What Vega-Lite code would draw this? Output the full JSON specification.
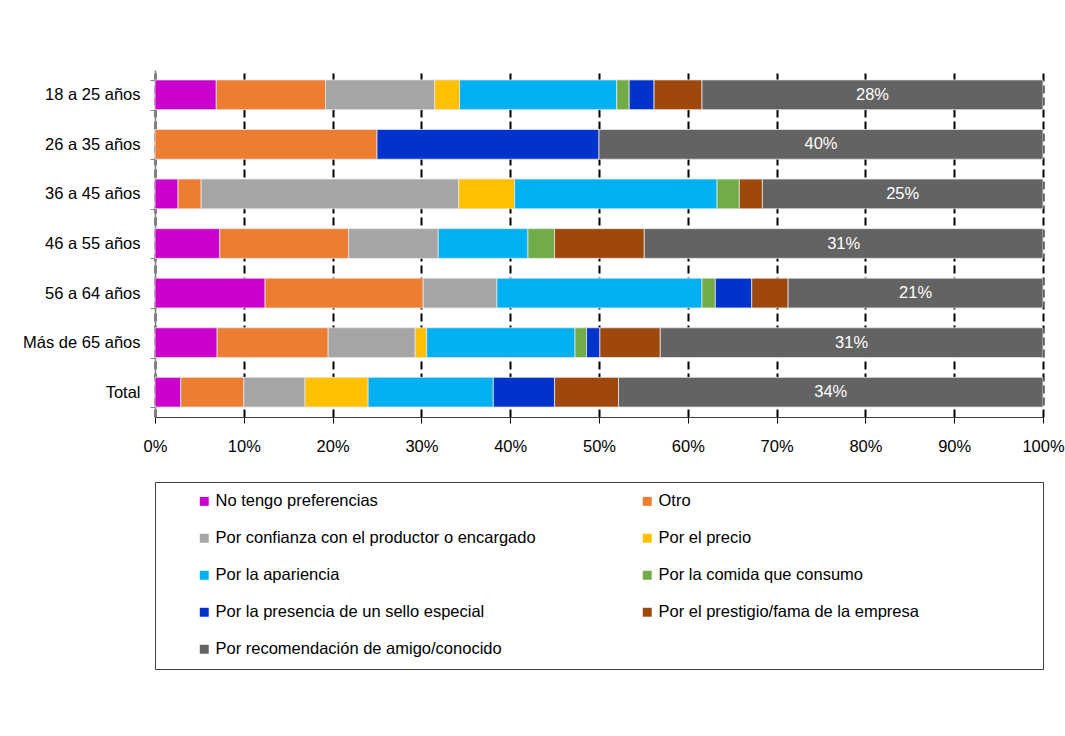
{
  "$schema": "https://vega.github.io/schema/vega-lite/v6.json",
  "width": 888,
  "height": 347,
  "autosize": "none",
  "padding": {"left": 155, "top": 70, "right": 22, "bottom": 319},
  "background": "white",
  "config": {
    "font": "Liberation Sans Narrow, Arial Narrow, Liberation Sans, sans-serif",
    "view": {"stroke": null}
  },
  "data": {
    "values": [
      {"grupo": "18 a 25 años", "motivo": "No tengo preferencias", "pct": 6.9},
      {"grupo": "18 a 25 años", "motivo": "Otro", "pct": 12.3},
      {"grupo": "18 a 25 años", "motivo": "Por confianza con el productor o encargado", "pct": 12.3},
      {"grupo": "18 a 25 años", "motivo": "Por el precio", "pct": 2.8},
      {"grupo": "18 a 25 años", "motivo": "Por la apariencia", "pct": 17.7},
      {"grupo": "18 a 25 años", "motivo": "Por la comida que consumo", "pct": 1.4},
      {"grupo": "18 a 25 años", "motivo": "Por la presencia de un sello especial", "pct": 2.8},
      {"grupo": "18 a 25 años", "motivo": "Por el prestigio/fama de la empresa", "pct": 5.4},
      {"grupo": "18 a 25 años", "motivo": "Por recomendación de amigo/conocido", "pct": 38.4, "etiqueta": "28%"},
      {"grupo": "26 a 35 años", "motivo": "Otro", "pct": 25},
      {"grupo": "26 a 35 años", "motivo": "Por la presencia de un sello especial", "pct": 25},
      {"grupo": "26 a 35 años", "motivo": "Por recomendación de amigo/conocido", "pct": 50, "etiqueta": "40%"},
      {"grupo": "36 a 45 años", "motivo": "No tengo preferencias", "pct": 2.6},
      {"grupo": "36 a 45 años", "motivo": "Otro", "pct": 2.6},
      {"grupo": "36 a 45 años", "motivo": "Por confianza con el productor o encargado", "pct": 29.0},
      {"grupo": "36 a 45 años", "motivo": "Por el precio", "pct": 6.3},
      {"grupo": "36 a 45 años", "motivo": "Por la apariencia", "pct": 22.8},
      {"grupo": "36 a 45 años", "motivo": "Por la comida que consumo", "pct": 2.5},
      {"grupo": "36 a 45 años", "motivo": "Por el prestigio/fama de la empresa", "pct": 2.6},
      {"grupo": "36 a 45 años", "motivo": "Por recomendación de amigo/conocido", "pct": 31.6, "etiqueta": "25%"},
      {"grupo": "46 a 55 años", "motivo": "No tengo preferencias", "pct": 7.3},
      {"grupo": "46 a 55 años", "motivo": "Otro", "pct": 14.5},
      {"grupo": "46 a 55 años", "motivo": "Por confianza con el productor o encargado", "pct": 10.1},
      {"grupo": "46 a 55 años", "motivo": "Por la apariencia", "pct": 10.1},
      {"grupo": "46 a 55 años", "motivo": "Por la comida que consumo", "pct": 3.0},
      {"grupo": "46 a 55 años", "motivo": "Por el prestigio/fama de la empresa", "pct": 10.1},
      {"grupo": "46 a 55 años", "motivo": "Por recomendación de amigo/conocido", "pct": 44.9, "etiqueta": "31%"},
      {"grupo": "56 a 64 años", "motivo": "No tengo preferencias", "pct": 12.4},
      {"grupo": "56 a 64 años", "motivo": "Otro", "pct": 17.8},
      {"grupo": "56 a 64 años", "motivo": "Por confianza con el productor o encargado", "pct": 8.3},
      {"grupo": "56 a 64 años", "motivo": "Por la apariencia", "pct": 23.1},
      {"grupo": "56 a 64 años", "motivo": "Por la comida que consumo", "pct": 1.5},
      {"grupo": "56 a 64 años", "motivo": "Por la presencia de un sello especial", "pct": 4.1},
      {"grupo": "56 a 64 años", "motivo": "Por el prestigio/fama de la empresa", "pct": 4.1},
      {"grupo": "56 a 64 años", "motivo": "Por recomendación de amigo/conocido", "pct": 28.7, "etiqueta": "21%"},
      {"grupo": "Más de 65 años", "motivo": "No tengo preferencias", "pct": 7.0},
      {"grupo": "Más de 65 años", "motivo": "Otro", "pct": 12.5},
      {"grupo": "Más de 65 años", "motivo": "Por confianza con el productor o encargado", "pct": 9.8},
      {"grupo": "Más de 65 años", "motivo": "Por el precio", "pct": 1.3},
      {"grupo": "Más de 65 años", "motivo": "Por la apariencia", "pct": 16.7},
      {"grupo": "Más de 65 años", "motivo": "Por la comida que consumo", "pct": 1.3},
      {"grupo": "Más de 65 años", "motivo": "Por la presencia de un sello especial", "pct": 1.5},
      {"grupo": "Más de 65 años", "motivo": "Por el prestigio/fama de la empresa", "pct": 6.8},
      {"grupo": "Más de 65 años", "motivo": "Por recomendación de amigo/conocido", "pct": 43.1, "etiqueta": "31%"},
      {"grupo": "Total", "motivo": "No tengo preferencias", "pct": 2.9},
      {"grupo": "Total", "motivo": "Otro", "pct": 7.1},
      {"grupo": "Total", "motivo": "Por confianza con el productor o encargado", "pct": 6.9},
      {"grupo": "Total", "motivo": "Por el precio", "pct": 7.1},
      {"grupo": "Total", "motivo": "Por la apariencia", "pct": 14.1},
      {"grupo": "Total", "motivo": "Por la presencia de un sello especial", "pct": 6.9},
      {"grupo": "Total", "motivo": "Por el prestigio/fama de la empresa", "pct": 7.2},
      {"grupo": "Total", "motivo": "Por recomendación de amigo/conocido", "pct": 47.8, "etiqueta": "34%"}
    ]
  },
  "transform": [
    {"stack": "pct", "groupby": ["grupo"], "offset": "normalize", "as": ["v0", "v1"]}
  ],
  "encoding": {
    "y": {
      "field": "grupo",
      "type": "nominal",
      "sort": null,
      "scale": {"paddingInner": 0.4, "paddingOuter": 0.2},
      "axis": {
        "title": null,
        "labelFontSize": 16.5,
        "labelColor": "#000000",
        "labelPadding": 10,
        "domainColor": "#808080",
        "domainWidth": 1.5,
        "tickColor": "#808080",
        "tickBand": "extent",
        "tickSize": 5,
        "grid": false
      }
    }
  },
  "layer": [
    {
      "mark": {"type": "bar", "stroke": "#e6e6e6", "strokeWidth": 0.8},
      "encoding": {
        "x": {
          "field": "v0",
          "type": "quantitative",
          "scale": {"domain": [0, 1], "nice": false},
          "axis": {
            "title": null,
            "format": ".0%",
            "values": [0, 0.1, 0.2, 0.3, 0.4, 0.5, 0.6, 0.7, 0.8, 0.9, 1],
            "labelFontSize": 16.5,
            "labelColor": "#000000",
            "labelPadding": 15,
            "labelFlush": false,
            "domainColor": "#404040",
            "tickColor": "#000000",
            "tickSize": 6,
            "grid": true,
            "gridColor": "#000000",
            "gridWidth": 2,
            "gridDash": [8, 4],
            "gridOpacity": 1,
            "zindex": 0
          }
        },
        "x2": {"field": "v1"},
        "color": {
          "field": "motivo",
          "type": "nominal",
          "scale": {
            "domain": [
              "No tengo preferencias",
              "Otro",
              "Por confianza con el productor o encargado",
              "Por el precio",
              "Por la apariencia",
              "Por la comida que consumo",
              "Por la presencia de un sello especial",
              "Por el prestigio/fama de la empresa",
              "Por recomendación de amigo/conocido"
            ],
            "range": ["#CC00CC", "#ED7D31", "#A5A5A5", "#FFC000", "#00B0F0", "#70AD47", "#0033CC", "#9E480E", "#636363"]
          },
          "legend": {
            "title": "\u00a0",
            "titleOrient": "right",
            "titlePadding": 113,
            "titleFontSize": 16,
            "orient": "none",
            "legendX": 0,
            "legendY": 412,
            "columns": 2,
            "direction": "horizontal",
            "symbolType": "square",
            "symbolSize": 80,
            "symbolStrokeWidth": 0,
            "symbolOffset": 30,
            "labelFontSize": 16.5,
            "labelColor": "#000000",
            "labelOffset": 3,
            "labelLimit": 500,
            "rowPadding": 20,
            "columnPadding": 73,
            "padding": 11,
            "strokeColor": "#404040",
            "fillColor": "white"
          }
        }
      }
    },
    {
      "transform": [
        {"filter": "datum.etiqueta != null"},
        {"fold": ["v0", "v1"], "as": ["lado", "pos"]}
      ],
      "mark": {"type": "text", "color": "white", "fontSize": 16.5, "baseline": "middle", "align": "center"},
      "encoding": {
        "x": {"aggregate": "mean", "field": "pos", "type": "quantitative"},
        "text": {"field": "etiqueta", "type": "nominal"}
      }
    }
  ]
}
